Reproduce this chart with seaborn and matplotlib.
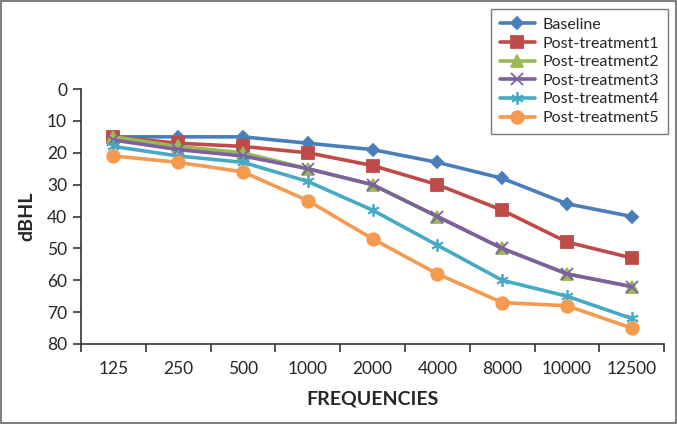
import matplotlib
matplotlib.use("Agg")
import matplotlib.pyplot as plt
import seaborn as sns
import pandas as pd
from matplotlib.patches import Rectangle

# Audiogram values (dBHL)
frequencies = ["125", "250", "500", "1000", "2000", "4000", "8000", "10000", "12500"]
baseline = [15, 15, 15, 17, 19, 23, 28, 36, 40]
post1 = [15, 17, 18, 20, 24, 30, 38, 48, 53]
post2 = [15, 18, 20, 25, 30, 40, 50, 58, 62]
post3 = [16, 19, 21, 25, 30, 40, 50, 58, 62]
post4 = [18, 21, 23, 29, 38, 49, 60, 65, 72]
post5 = [21, 23, 26, 35, 47, 58, 67, 68, 75]

series = ["Baseline", "Post-treatment1", "Post-treatment2",
          "Post-treatment3", "Post-treatment4", "Post-treatment5"]
values = [baseline, post1, post2, post3, post4, post5]

rows = []
for name, vals in zip(series, values):
    for f, v in zip(frequencies, vals):
        rows.append({"freq": f, "dBHL": v, "series": name})
df = pd.DataFrame(rows)

colors = {"Baseline": "#4A7EBB", "Post-treatment1": "#BE4B48",
          "Post-treatment2": "#98B954", "Post-treatment3": "#7D60A0",
          "Post-treatment4": "#46AAC5", "Post-treatment5": "#F59A4E"}
markers = {"Baseline": "D", "Post-treatment1": "s", "Post-treatment2": "^",
           "Post-treatment3": "x", "Post-treatment4": (6, 2, 0),
           "Post-treatment5": "o"}
sizes = {"Baseline": 6.5, "Post-treatment1": 8.5, "Post-treatment2": 8,
         "Post-treatment3": 9, "Post-treatment4": 9, "Post-treatment5": 9}

sns.set_style("white")
plt.rcParams["font.family"] = ["Lato", "DejaVu Sans"]

fig = plt.figure(figsize=(6.77, 4.24), dpi=100)
ax = fig.add_axes([0.1196, 0.1887, 0.8614, 0.6013])

for name in series:
    sub = df[df["series"] == name]
    sns.lineplot(data=sub, x="freq", y="dBHL", ax=ax, color=colors[name],
                 marker=markers[name], markersize=sizes[name], linewidth=2.6,
                 markeredgecolor=colors[name], markeredgewidth=1.3,
                 label=name, sort=False)

ax.set_ylim(80, 0)
ax.set_yticks(range(0, 81, 10))
ax.set_xlim(-0.5, len(frequencies) - 0.5)
ax.set_xticks(range(len(frequencies)))
ax.set_xticklabels(frequencies)
ax.set_xticks([i - 0.5 for i in range(len(frequencies) + 1)], minor=True)
ax.tick_params(axis="x", which="major", length=0, pad=12, labelsize=12.5)
ax.tick_params(axis="x", which="minor", length=6, width=1.2, direction="out",
               bottom=True, color="#333333")
ax.tick_params(axis="y", length=6, width=1.2, direction="out", left=True,
               labelsize=12.5, pad=4, color="#333333")

for side in ["top", "right"]:
    ax.spines[side].set_visible(False)
for side in ["left", "bottom"]:
    ax.spines[side].set_color("#333333")
    ax.spines[side].set_linewidth(1.2)

ax.set_xlabel("FREQUENCIES", fontsize=14, fontweight="bold", labelpad=10)
ax.set_ylabel("dBHL", fontsize=14, fontweight="bold", labelpad=8)

leg = ax.legend(loc="upper right", bbox_to_anchor=(0.987, 0.979),
                bbox_transform=fig.transFigure, frameon=True, fancybox=False,
                fontsize=11.5, handlelength=2.2, borderpad=0.55,
                labelspacing=0.28, handletextpad=0.5, borderaxespad=0)
leg.get_frame().set_edgecolor("#555555")
leg.get_frame().set_linewidth(1.0)

fig.patches.append(Rectangle((0.001, 0.002), 0.997, 0.995, transform=fig.transFigure,
                             fill=False, edgecolor="#808080", linewidth=1.5))

fig.savefig("out.png", dpi=100)
